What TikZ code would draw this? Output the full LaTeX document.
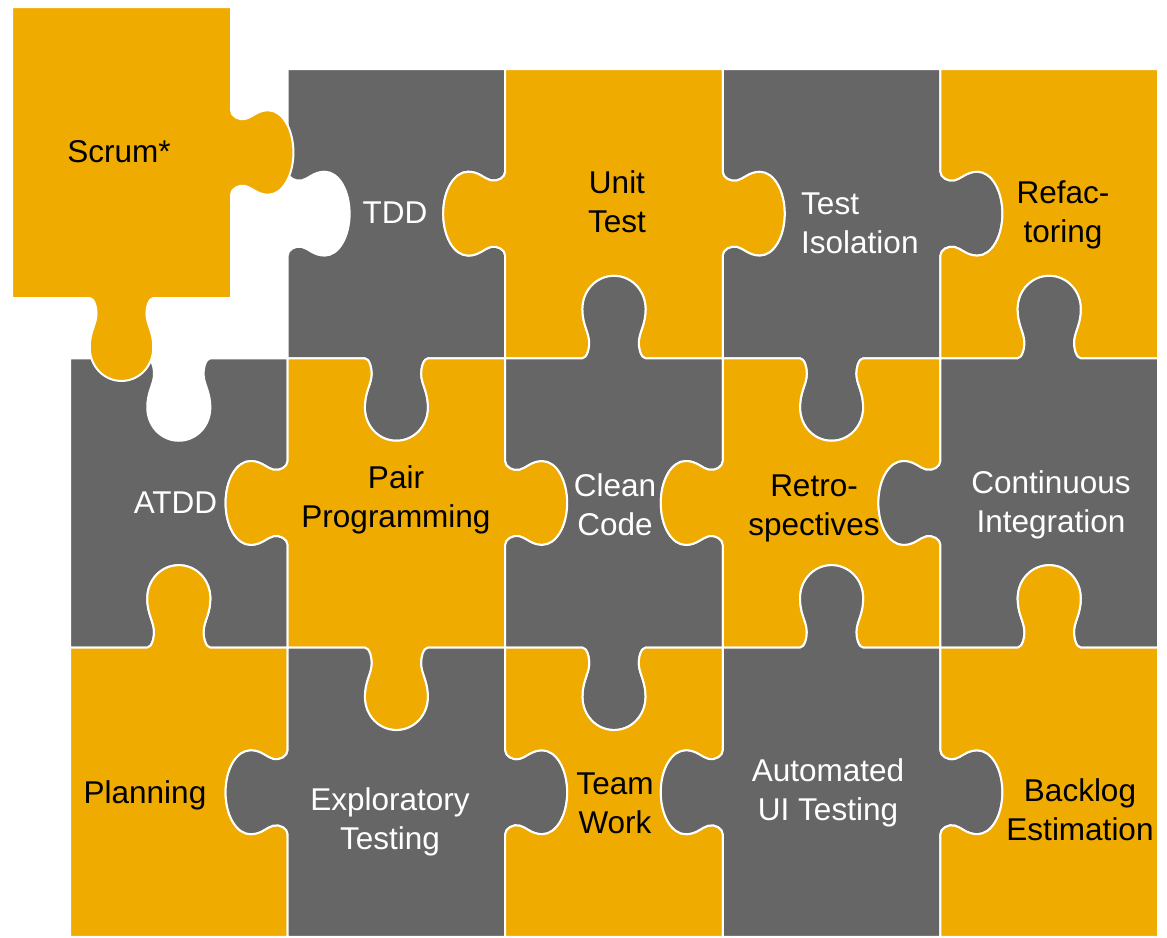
\documentclass[tikz,border=0pt]{standalone}
\usepackage{fontspec}
\setmainfont{Liberation Sans}
\definecolor{pzorange}{RGB}{239,171,0}
\definecolor{pzgray}{RGB}{102,102,102}

% edge mappers: (a = offset along edge from its middle, v = outward depth)
\newcommand\mT[2]{({0.5+(#1)},{-(#2)})}
\newcommand\mR[2]{({1+(#2)},{0.5+(#1)})}
\newcommand\mB[2]{({0.5-(#1)},{1+(#2)})}
\newcommand\mL[2]{({-(#2)},{0.5-(#1)})}
\newcommand\knob[2]{%
 -- #1{-0.145}{0}
 .. controls #1{-0.125}{0} and #1{-0.11}{0.035*(#2)} .. #1{-0.115}{0.065*(#2)}
 .. controls #1{-0.12}{0.095*(#2)} and #1{-0.145}{0.12*(#2)} .. #1{-0.145}{0.17*(#2)}
 .. controls #1{-0.145}{0.235*(#2)} and #1{-0.08}{0.285*(#2)} .. #1{0}{0.285*(#2)}
 .. controls #1{0.08}{0.285*(#2)} and #1{0.145}{0.235*(#2)} .. #1{0.145}{0.17*(#2)}
 .. controls #1{0.145}{0.12*(#2)} and #1{0.12}{0.095*(#2)} .. #1{0.115}{0.065*(#2)}
 .. controls #1{0.11}{0.035*(#2)} and #1{0.125}{0} .. #1{0.145}{0}}
\newcommand\piecepath[4]{(0,0) \knob\mT{#1} -- (1,0) \knob\mR{#2} -- (1,1) \knob\mB{#3} -- (0,1) \knob\mL{#4} -- cycle}
% x y colour top right bottom left (+1 tab, -1 hole, 0 flat) width height
\newcommand\puzzlepiece[9]{%
 \begin{scope}[shift={(#1,#2)}, x=#8pt, y=-#9pt]
 \edef\piecep{\piecepath{#4}{#5}{#6}{#7}}%
 \filldraw[pzpiece, fill=#3] \piecep;
 \end{scope}}

\tikzset{
 pzpiece/.style={draw=white, line width=2pt, line join=round},
 lbl/.style={inner sep=0pt, anchor=base, align=center, font=\fontsize{31.5}{38.5}\selectfont, text=black},
 lblw/.style={lbl, text=white}
}

\begin{document}
\begin{tikzpicture}[x=1pt, y=-1pt]
\useasboundingbox (0,0) rectangle (1167,937);
% row 0
\puzzlepiece{287.6}{69}{pzgray}{0}{-1}{1}{-1}{217.6}{289.3}
\puzzlepiece{505.2}{69}{pzorange}{0}{1}{-1}{1}{217.6}{289.3}
\puzzlepiece{722.8}{69}{pzgray}{0}{1}{1}{-1}{217.6}{289.3}
\puzzlepiece{940.4}{69}{pzorange}{0}{0}{-1}{-1}{217.6}{289.3}
% row 1
\puzzlepiece{70}{358.3}{pzgray}{-1}{-1}{-1}{0}{217.6}{289.3}
\puzzlepiece{287.6}{358.3}{pzorange}{-1}{1}{1}{1}{217.6}{289.3}
\puzzlepiece{505.2}{358.3}{pzgray}{1}{-1}{1}{-1}{217.6}{289.3}
\puzzlepiece{722.8}{358.3}{pzorange}{-1}{-1}{-1}{1}{217.6}{289.3}
\puzzlepiece{940.4}{358.3}{pzgray}{1}{0}{-1}{1}{217.6}{289.3}
% row 2
\puzzlepiece{70}{647.6}{pzorange}{1}{-1}{0}{0}{217.6}{289.3}
\puzzlepiece{287.6}{647.6}{pzgray}{-1}{1}{0}{1}{217.6}{289.3}
\puzzlepiece{505.2}{647.6}{pzorange}{-1}{-1}{0}{-1}{217.6}{289.3}
\puzzlepiece{722.8}{647.6}{pzgray}{1}{1}{0}{1}{217.6}{289.3}
\puzzlepiece{940.4}{647.6}{pzorange}{1}{0}{0}{-1}{217.6}{289.3}
% lifted piece
\puzzlepiece{12}{7}{pzorange}{0}{1}{1}{0}{219}{291}

\node[lbl] (scrum) at (119,162) {Scrum*};
\node[lblw] (tdd) at (395,223) {TDD};
\node[lbl] (unit) at (617,232) {Unit\\Test};
\node[lblw, align=left, anchor=base west] (iso) at (801,253) {Test\\Isolation};
\node[lbl] (refac) at (1063,242) {Refac-\\toring};
\node[lblw] (atdd) at (175.5,513) {ATDD};
\node[lbl] (pair) at (396,527) {Pair\\Programming};
\node[lblw] (clean) at (615,535) {Clean\\Code};
\node[lbl] (retro) at (814,535) {Retro-\\spectives};
\node[lblw] (ci) at (1051,532) {Continuous\\Integration};
\node[lbl] (plan) at (145,803) {Planning};
\node[lblw] (expl) at (390,849) {Exploratory\\Testing};
\node[lbl] (team) at (615,833) {Team\\Work};
\node[lblw] (auto) at (828,820) {Automated\\UI Testing};
\node[lbl] (backlog) at (1080,840) {Backlog\\Estimation};
\end{tikzpicture}
\end{document}
